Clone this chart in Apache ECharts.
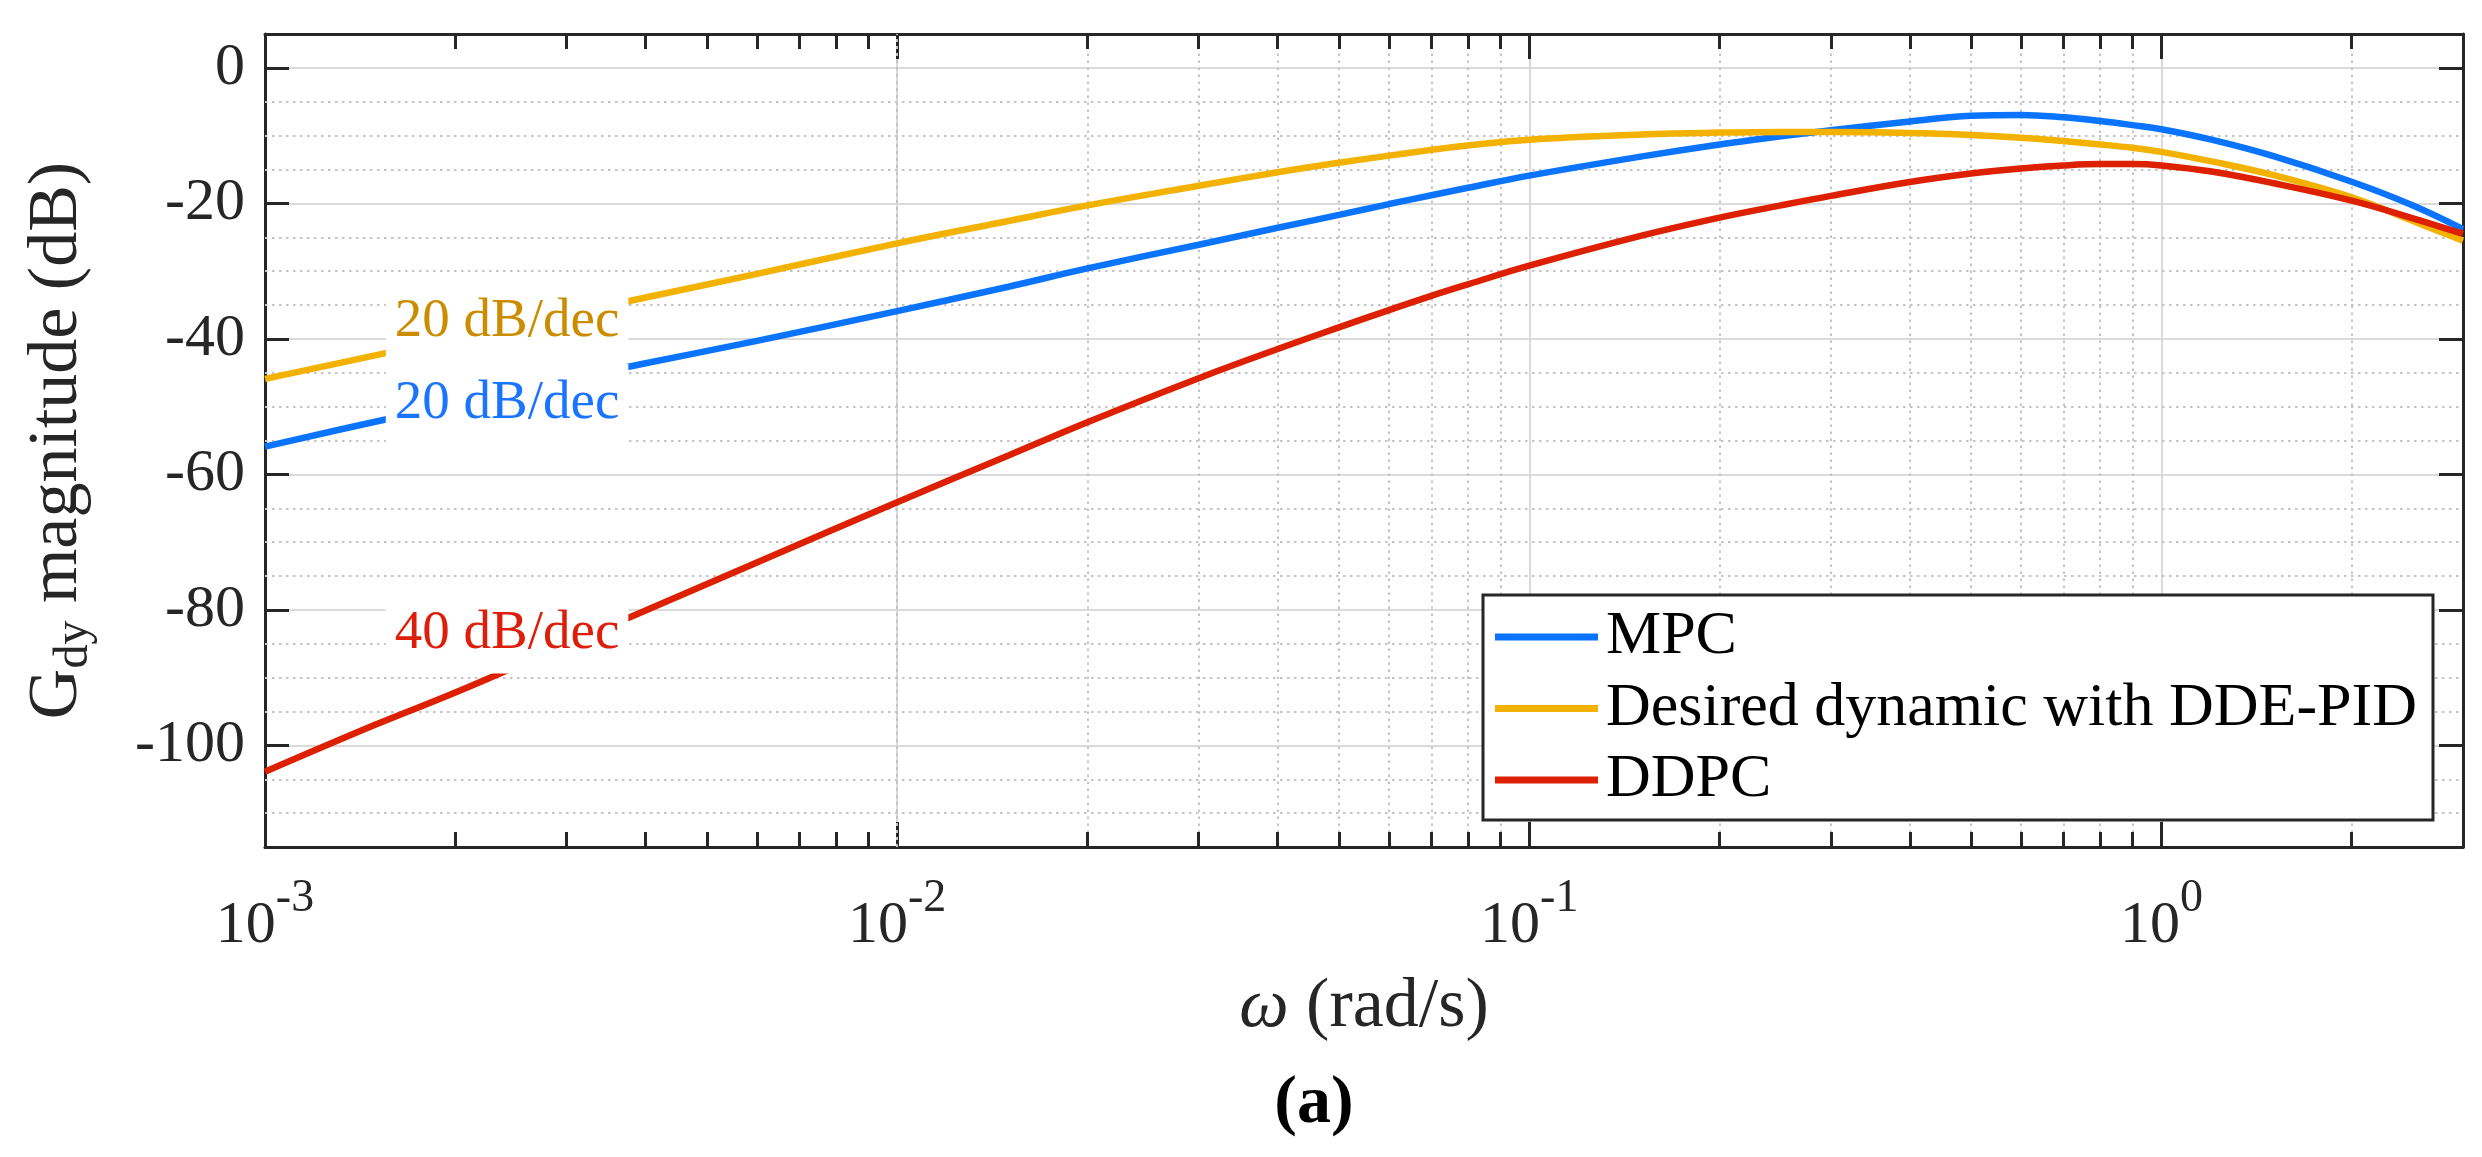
<!DOCTYPE html>
<html>
<head>
<meta charset="utf-8">
<script src="https://cdn.jsdelivr.net/npm/echarts@6/dist/echarts.min.js"></script>
<style>
html,body{margin:0;padding:0;background:#fff;}
#chart{width:2482px;height:1157px;}
</style>
</head>
<body>
<div id="chart"></div>
<script>
// ---------- data ----------
const freq = [0.001, 0.0015, 0.002, 0.003, 0.004, 0.006, 0.01, 0.015, 0.02, 0.03, 0.04, 0.05, 0.06, 0.07, 0.08, 0.1, 0.15, 0.2, 0.25, 0.3, 0.4, 0.5, 0.6, 0.7, 0.8, 0.9, 1.0, 1.2, 1.5, 2.0, 2.5, 3.0];
const mpc = [-55.9, -52.2, -49.8, -46.0, -43.6, -40.3, -35.9, -32.3, -29.6, -26.1, -23.6, -21.7, -20.1, -18.8, -17.7, -15.9, -13.1, -11.3, -10.1, -9.2, -7.9, -7.05, -6.95, -7.3, -7.85, -8.45, -9.05, -10.6, -13.0, -16.8, -20.3, -23.8];
const desired = [-45.9, -42.4, -39.9, -36.4, -33.9, -30.4, -25.9, -22.6, -20.3, -17.4, -15.4, -14.0, -12.95, -12.1, -11.45, -10.6, -9.85, -9.55, -9.45, -9.45, -9.6, -9.9, -10.3, -10.8, -11.3, -11.8, -12.4, -13.8, -15.8, -19.1, -22.6, -25.5];
const ddpc = [-103.9, -96.9, -92.2, -85.1, -80.1, -73.0, -64.1, -57.2, -52.3, -45.8, -41.5, -38.3, -35.75, -33.65, -31.95, -29.2, -24.8, -22.1, -20.3, -18.9, -16.85, -15.6, -14.85, -14.4, -14.2, -14.2, -14.4, -15.3, -17.0, -19.6, -22.2, -24.5];
const seriesNames = ['MPC', 'Desired dynamic with DDE-PID', 'DDPC'];

// axes
const xMin = 0.001, xMax = 3;
const yMin = -115, yMax = 5;
const xDecades = [0.001, 0.01, 0.1];
const xMinorExtra = [2];
const yMinor = [-110, -105, -95, -90, -85, -75, -70, -65, -55, -50, -45, -35, -30, -25, -15, -10, -5];

// slope annotations
const annotations = [
  { text: '20 dB/dec', x: 0.002415, y: -37.5, color: '#cc8c00' },
  { text: '20 dB/dec', x: 0.002415, y: -49.6, color: '#1a74ff' },
  { text: '40 dB/dec', x: 0.002415, y: -83.5, color: '#dc1e0a' }
];

// ---------- styling ----------
const FONT = '"Liberation Serif", "Times New Roman", serif';
const colors = ['#0a74ff', '#f3b100', '#dc2000'];
const axisColor = '#262626';
const minorTickDB = 15 / 6.775; // inward minor tick length expressed in dB

const xMinor = xDecades.flatMap(d => [2,3,4,5,6,7,8,9].map(k => +(k * d).toPrecision(6))).concat(xMinorExtra);

const gridLines = [];
yMinor.forEach(v => gridLines.push({ yAxis: v, lineStyle: { color: '#c4c4c4', width: 2, type: [2.5, 4.5] } }));
xMinor.forEach(v => gridLines.push({ xAxis: v, lineStyle: { color: '#c4c4c4', width: 2, type: [2.5, 4.5] } }));
xMinor.forEach(v => {
  gridLines.push([{ coord: [v, yMin], lineStyle: { color: axisColor, width: 3, type: 'solid' } }, { coord: [v, yMin + minorTickDB] }]);
  gridLines.push([{ coord: [v, yMax], lineStyle: { color: axisColor, width: 3, type: 'solid' } }, { coord: [v, yMax - minorTickDB] }]);
});

function xLabel(v) {
  const e = Math.log10(v);
  if (Math.abs(e - Math.round(e)) > 1e-6) return '';
  return '{b|10}{s|' + Math.round(e) + '}';
}

const dataSets = [mpc, desired, ddpc];
const series = dataSets.map((arr, i) => ({
  name: seriesNames[i],
  type: 'line',
  data: freq.map((f, j) => [f, arr[j]]),
  showSymbol: false,
  symbol: 'none',
  smooth: 0.4,
  z: 3 + i,
  lineStyle: { width: 6.5, color: colors[i] },
  itemStyle: { color: colors[i] },
  emphasis: { disabled: true }
}));

series[0].markLine = {
  silent: true, animation: false, z: 1,
  symbol: ['none', 'none'],
  label: { show: false },
  emphasis: { disabled: true },
  data: gridLines
};

series[2].markPoint = {
  silent: true, animation: false, z: 10,
  symbol: 'rect', symbolSize: 1,
  itemStyle: { color: 'rgba(0,0,0,0)' },
  data: annotations.map(a => ({
    coord: [a.x, a.y],
    label: {
      show: true, position: 'inside', formatter: a.text,
      fontFamily: FONT, fontSize: 55, color: a.color,
      backgroundColor: '#ffffff', padding: [12, 9, 12, 9], lineHeight: 56
    }
  }))
};

const axisLineStyle = { show: true, onZero: false, lineStyle: { color: axisColor, width: 3 } };

const chart = echarts.init(document.getElementById('chart'), null, { renderer: 'canvas' });
chart.setOption({
  animation: false,
  backgroundColor: '#ffffff',
  grid: { left: 265, right: 19, top: 34, bottom: 310, containLabel: false },
  legend: {
    data: seriesNames,
    orient: 'vertical',
    left: 1483, top: 595,
    icon: 'rect', itemWidth: 103, itemHeight: 7, itemGap: 7.5,
    padding: [10, 16, 8, 12],
    backgroundColor: '#ffffff', borderColor: axisColor, borderWidth: 3,
    selectedMode: false,
    textStyle: { fontFamily: FONT, fontSize: 62, color: '#000', lineHeight: 64, padding: [0, 0, 0, 3] },
    z: 20
  },
  xAxis: [{
    type: 'log', logBase: 10, min: xMin, max: xMax, position: 'bottom',
    axisLine: axisLineStyle,
    axisTick: { show: true, inside: true, length: 25, lineStyle: { color: axisColor, width: 3 } },
    axisLabel: {
      margin: 29, formatter: xLabel, color: axisColor,
      rich: {
        b: { fontFamily: FONT, fontSize: 60, lineHeight: 100, verticalAlign: 'middle', color: axisColor },
        s: { fontFamily: FONT, fontSize: 46, lineHeight: 46, verticalAlign: 'top', color: axisColor }
      }
    },
    splitLine: { show: true, lineStyle: { color: '#dadada', width: 2 } },
    name: '{w|ω} (rad/s)', nameLocation: 'middle', nameGap: 126,
    nameTextStyle: {
      fontFamily: FONT, fontSize: 70, color: axisColor,
      rich: { w: { fontFamily: FONT, fontSize: 70, fontStyle: 'italic', color: axisColor } }
    }
  }, {
    type: 'log', logBase: 10, min: xMin, max: xMax, position: 'top',
    axisLine: axisLineStyle,
    axisTick: { show: true, inside: true, length: 25, lineStyle: { color: axisColor, width: 3 } },
    axisLabel: { show: false },
    splitLine: { show: false }
  }],
  yAxis: [{
    type: 'value', min: yMin, max: yMax, splitNumber: 6, position: 'left',
    axisLine: axisLineStyle,
    axisTick: { show: true, inside: true, length: 24, lineStyle: { color: axisColor, width: 3 } },
    axisLabel: {
      margin: 20, fontFamily: FONT, fontSize: 60, color: axisColor,
      formatter: v => (v % 20 === 0 ? String(v) : '')
    },
    splitLine: { show: true, lineStyle: { color: '#dadada', width: 2 } },
    name: '{g|G}{sub|dy}{g| magnitude (dB)}', nameLocation: 'middle', nameGap: 167,
    nameTextStyle: {
      fontFamily: FONT, fontSize: 70, color: axisColor,
      rich: {
        g: { fontFamily: FONT, fontSize: 70, lineHeight: 80, verticalAlign: 'middle', color: axisColor },
        sub: { fontFamily: FONT, fontSize: 48, lineHeight: 48, verticalAlign: 'bottom', color: axisColor }
      }
    }
  }, {
    type: 'value', min: yMin, max: yMax, splitNumber: 6, position: 'right',
    axisLine: axisLineStyle,
    axisTick: { show: true, inside: true, length: 24, lineStyle: { color: axisColor, width: 3 } },
    axisLabel: { show: false },
    splitLine: { show: false }
  }],
  graphic: [{
    type: 'text', x: 1314, y: 1104, z: 100,
    style: { text: '(a)', font: 'bold 68px "Liberation Serif"', fill: '#000', align: 'center', verticalAlign: 'middle' }
  }],
  series: series
});
</script>
</body>
</html>
